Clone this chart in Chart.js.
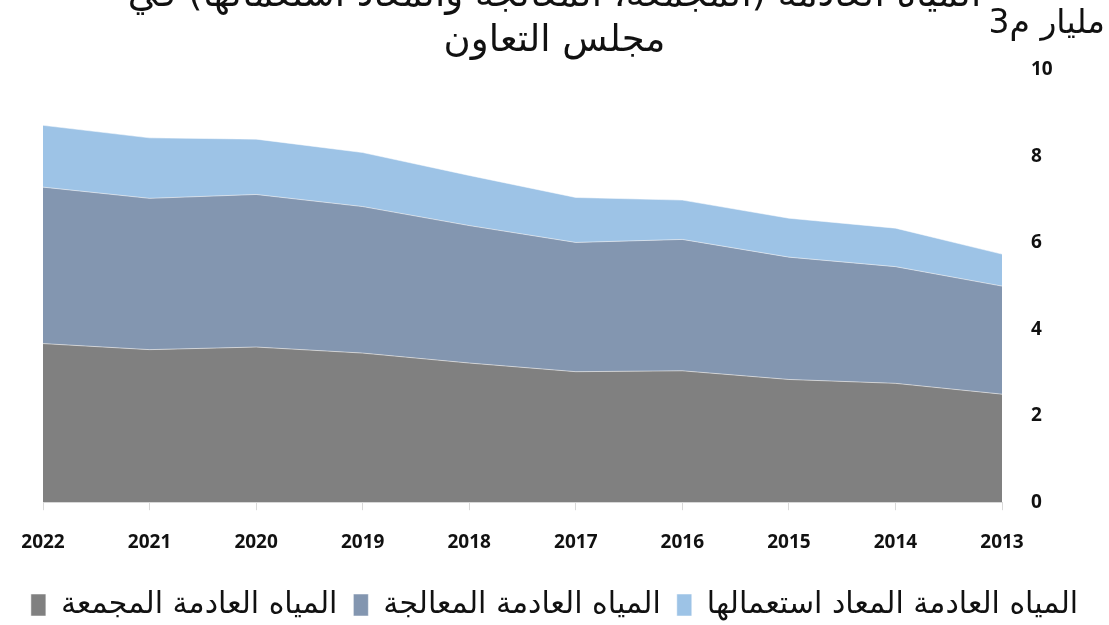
<!DOCTYPE html>
<html>
<head>
<meta charset="utf-8">
<script src="https://cdn.jsdelivr.net/npm/chart.js@4/dist/chart.umd.min.js"></script>
<style>
  body { margin: 0; background: #fff; }
  #wrap { position: relative; width: 1109px; height: 625px; overflow: hidden; }
  .title { position: absolute; left: 0; width: 1109px; text-align: center; font-family: "DejaVu Sans", sans-serif; font-size: 37px; color: #111; direction: rtl; }
  #unit { position: absolute; right: 4px; top: 2px; font-family: "DejaVu Sans", sans-serif; font-size: 33px; color: #111; direction: rtl; }
</style>
</head>
<body>
<div id="wrap">
  <canvas id="chart" width="1109" height="625"></canvas>
  <div class="title" style="top:-28px">المياه العادمة (المجمعة، المعالجة والمعاد استعمالها) في</div>
  <div class="title" style="top:17px">مجلس التعاون</div>
  <div id="unit">مليار م3</div>
</div>
<script>
// categories as displayed, left to right
const years = ["2022", "2021", "2020", "2019", "2018", "2017", "2016", "2015", "2014", "2013"];

// billion m3
const collected = [3.67, 3.53, 3.59, 3.45, 3.22, 3.02, 3.04, 2.84, 2.75, 2.50];
const treated   = [3.62, 3.50, 3.53, 3.39, 3.18, 2.99, 3.04, 2.83, 2.70, 2.50];
const reused    = [1.43, 1.40, 1.28, 1.25, 1.16, 1.04, 0.91, 0.90, 0.89, 0.74];

const seriesNames = ["المياه العادمة المجمعة", "المياه العادمة المعالجة", "المياه العادمة المعاد استعمالها"];
const yTicks = [0, 2, 4, 6, 8, 10];

const ctx = document.getElementById("chart").getContext("2d");

new Chart(ctx, {
    type: "line",
    data: {
        labels: years,
        datasets: [
            { label: seriesNames[0], data: collected, backgroundColor: "#808080", fill: "origin" },
            { label: seriesNames[1], data: treated, backgroundColor: "#8396b0", fill: "-1" },
            { label: seriesNames[2], data: reused, backgroundColor: "#9dc3e6", fill: "-1" }
        ].map(d => Object.assign(d, {
            yAxisID: "y",
            borderColor: "rgba(255,255,255,0.5)",
            borderWidth: 1,
            pointRadius: 0,
            tension: 0
        }))
    },
    options: {
        responsive: false,
        animation: false,
        layout: { padding: { left: 0, top: 70, bottom: -5, right: 0 } },
        plugins: {
            title: { display: false },
            tooltip: { enabled: false },
            legend: {
                position: "bottom",
                labels: {
                    font: { family: "DejaVu Sans", size: 30 },
                    color: "#111",
                    boxWidth: 15,
                    boxHeight: 22,
                    padding: 16
                }
            }
        },
        scales: {
            x: {
                offset: false,
                grid: { drawOnChartArea: false, color: "#d9d9d9", tickLength: 8 },
                border: { color: "#d9d9d9" },
                afterFit: s => { s.height = s.height - 1; },
                ticks: {
                    font: { family: "Open Sans", size: 19, weight: "bold" },
                    color: "#111",
                    padding: 21,
                    maxRotation: 0
                }
            },
            y: {
                position: "right",
                stacked: true,
                min: 0,
                max: 10,
                afterBuildTicks: s => { s.ticks = yTicks.map(v => ({ value: v })); },
                afterFit: s => { s.width = 107; },
                grid: { display: false },
                border: { display: false },
                ticks: {
                    font: { family: "Open Sans", size: 19, weight: "bold" },
                    color: "#111",
                    padding: 21
                }
            },
            // empty left gutter so the plot starts where the original does
            gutter: {
                axis: "y",
                position: "left",
                afterFit: s => { s.width = 43; },
                grid: { display: false },
                border: { display: false },
                ticks: { display: false }
            }
        }
    }
});
</script>
</body>
</html>
